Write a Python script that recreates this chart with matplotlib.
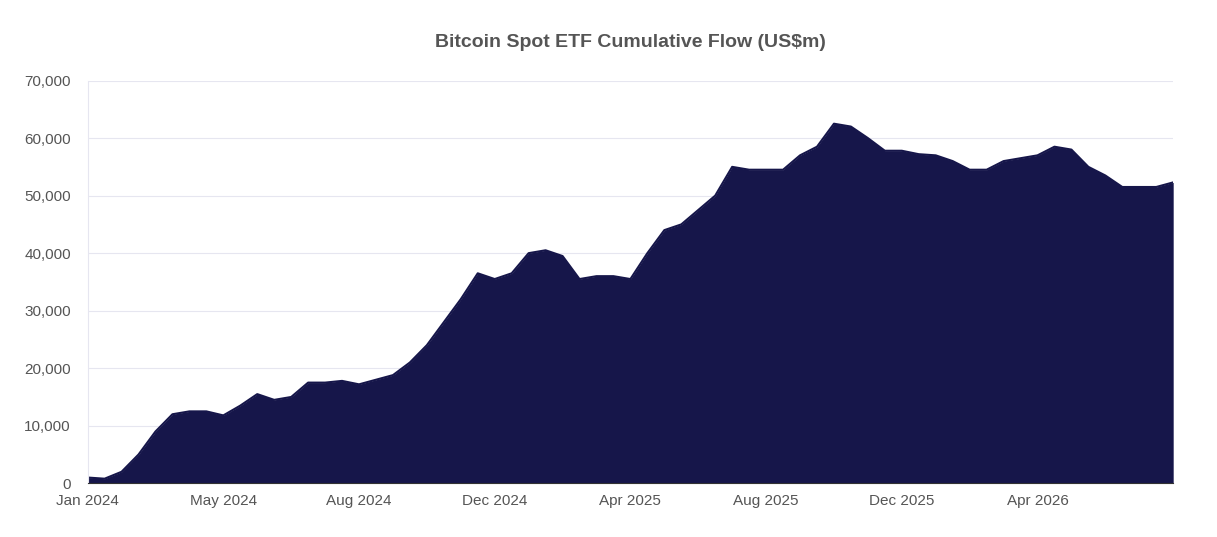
import matplotlib.pyplot as plt
import numpy as np

plt.rcParams["font.family"] = ["Liberation Sans", "DejaVu Sans"]

# half-monthly cumulative flow (US$m)
flows = [1000, 800, 2000, 5000, 9000, 12000, 12500, 12500, 11800, 13500,
         15500, 14500, 15000, 17500, 17500, 17800, 17200, 18000, 18800, 21000,
         24000, 28000, 32000, 36500, 35500, 36500, 40000, 40500, 39500, 35500,
         36000, 36000, 35500, 40000, 44000, 45000, 47500, 50000, 55000, 54500,
         54500, 54500, 57000, 58500, 62500, 62000, 60000, 57800, 57800, 57200,
         57000, 56000, 54500, 54500, 56000, 56500, 57000, 58500, 58000, 55000,
         53500, 51500, 51500, 51500, 52300]
tick_labels = ["Jan 2024", "May 2024", "Aug 2024", "Dec 2024",
               "Apr 2025", "Aug 2025", "Dec 2025", "Apr 2026"]

x = np.arange(len(flows))

fig, ax = plt.subplots(figsize=(12.17, 5.37), dpi=100)
fig.subplots_adjust(left=0.072, right=0.964, top=0.85, bottom=0.1)

ax.fill_between(x, flows, 0, color="#16164a", lw=0)
ax.plot(x, flows, color="#16164a", lw=1.5)

ax.set_xlim(0, len(flows) - 1)
ax.set_ylim(0, 70000)
ax.set_yticks(range(0, 70001, 10000))
ax.yaxis.set_major_formatter(plt.FuncFormatter(lambda v, p: f"{int(v):,}"))
ax.set_xticks(np.arange(len(tick_labels)) * 8)
ax.set_xticklabels(tick_labels)
ax.tick_params(colors="#555555", labelsize=11, length=0)
ax.tick_params(axis="x", pad=8)
ax.tick_params(axis="y", pad=12)
ax.grid(axis="y", color="#e6e6f0", lw=0.8)
ax.set_axisbelow(True)
for s in ["top", "right"]:
    ax.spines[s].set_visible(False)
ax.spines["left"].set_color("#e6e6f0")
ax.spines["bottom"].set_color("#333333")

ax.set_title("Bitcoin Spot ETF Cumulative Flow (US$m)", fontsize=14,
             fontweight="bold", color="#555555", pad=24)

fig.savefig("out.png")
